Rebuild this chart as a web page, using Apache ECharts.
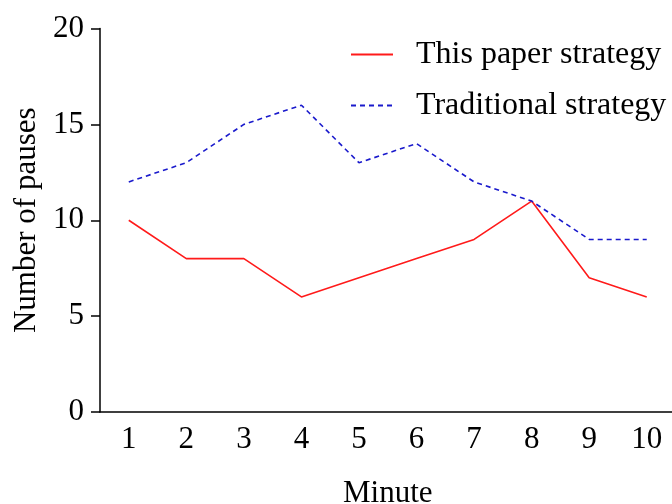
<!DOCTYPE html>
<html>
<head>
<meta charset="utf-8">
<script src="https://cdn.jsdelivr.net/npm/echarts@6/dist/echarts.min.js"></script>
<style>html,body{margin:0;padding:0;background:#fff;}#c{width:672px;height:504px;}</style>
</head>
<body>
<div id="c"></div>
<script>
const minutes = ['1','2','3','4','5','6','7','8','9','10'];
const thisPaper = [10, 8, 8, 6, 7, 8, 9, 11, 7, 6];
const traditional = [12, 13, 15, 16, 13, 14, 12, 11, 9, 9];
const yTicks = [0, 5, 10, 15, 20];

const font = 'Liberation Serif, Times New Roman, serif';
const chart = echarts.init(document.getElementById('c'), null, {renderer: 'canvas'});
chart.setOption({
  animation: false,
  backgroundColor: '#fff',
  textStyle: {fontFamily: font},
  grid: {left: 100, top: 28.5, width: 575.5, height: 383.5, containLabel: false, outerBoundsMode: 'none'},
  legend: {
    orient: 'vertical', left: 350, top: 38.5, padding: 0, itemWidth: 42, itemHeight: 14, itemGap: 19,
    itemStyle: {opacity: 0},
    textStyle: {fontFamily: font, fontSize: 32, color: '#000', padding: [0, 0, 0, 18], lineHeight: 31},
    data: ['This paper strategy', 'Traditional strategy']
  },
  xAxis: {
    type: 'category', data: minutes, boundaryGap: true,
    name: 'Minute', nameLocation: 'middle', nameGap: 66,
    nameTextStyle: {fontFamily: font, fontSize: 31, color: '#000'},
    axisLine: {lineStyle: {color: '#000', width: 1.5}},
    axisTick: {alignWithLabel: true, length: 10, lineStyle: {color: '#000', width: 1.5}},
    axisLabel: {fontFamily: font, fontSize: 31, color: '#000', margin: 12},
    splitLine: {show: false}
  },
  yAxis: {
    type: 'value', min: yTicks[0], max: yTicks[yTicks.length - 1], interval: 5,
    name: 'Number of pauses', nameLocation: 'middle', nameGap: 57,
    nameTextStyle: {fontFamily: font, fontSize: 31, color: '#000'},
    axisLine: {show: true, lineStyle: {color: '#000', width: 1.5}},
    axisTick: {show: true, length: 9, lineStyle: {color: '#000', width: 1.5}},
    axisLabel: {fontFamily: font, fontSize: 31, color: '#000', margin: 16},
    splitLine: {show: false}
  },
  series: [
    {name: 'This paper strategy', type: 'line', data: thisPaper, symbol: 'none',
     lineStyle: {color: '#ff1a1a', width: 1.6}, itemStyle: {color: '#ff1a1a'}},
    {name: 'Traditional strategy', type: 'line', data: traditional, symbol: 'none',
     lineStyle: {color: '#1a1acc', width: 1.6, type: [5, 4]}, itemStyle: {color: '#1a1acc'}}
  ]
});
</script>
</body>
</html>
